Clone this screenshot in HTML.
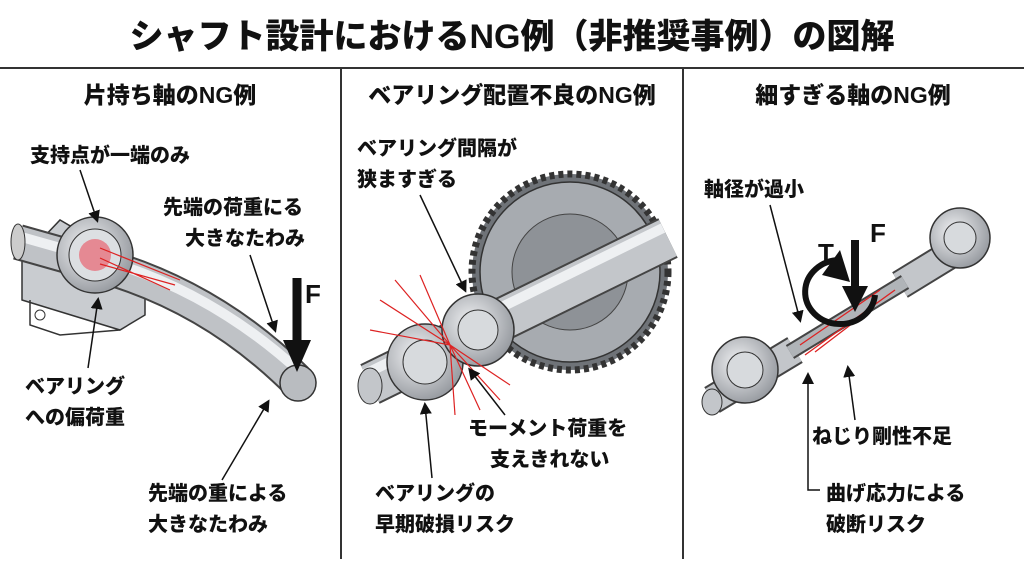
<!DOCTYPE html>
<html><head><meta charset="utf-8">
<style>
html,body{margin:0;padding:0;background:#fff;}
body{width:1024px;height:559px;overflow:hidden;font-family:"Liberation Sans","Noto Sans CJK JP",sans-serif;}
svg text{font-family:"Liberation Sans","Noto Sans CJK JP",sans-serif;font-weight:900;fill:#111;}
</style></head><body>
<svg width="1024" height="559" viewBox="0 0 1024 559" xmlns="http://www.w3.org/2000/svg">
<defs>
<radialGradient id="br" cx="0.4" cy="0.4" r="0.7">
<stop offset="0" stop-color="#f2f3f5"/><stop offset="1" stop-color="#8d9197"/></radialGradient>
<marker id="ah" markerWidth="8" markerHeight="8" refX="6" refY="4" orient="auto"><path d="M0,0 L8,4 L0,8 z" fill="#111"/></marker>
</defs>
<rect width="1024" height="559" fill="#fff"/>
<text x="512" y="48" font-size="34" text-anchor="middle">シャフト設計におけるNG例（非推奨事例）の図解</text>
<line x1="0" y1="68" x2="1024" y2="68" stroke="#333" stroke-width="2"/>
<line x1="341" y1="68" x2="341" y2="559" stroke="#333" stroke-width="2"/>
<line x1="683" y1="68" x2="683" y2="559" stroke="#333" stroke-width="2"/>
<text x="170" y="103" font-size="23" text-anchor="middle">片持ち軸のNG例</text>
<text x="512" y="103" font-size="23" text-anchor="middle">ベアリング配置不良のNG例</text>
<text x="853" y="103" font-size="23" text-anchor="middle">細すぎる軸のNG例</text>

<!-- Panel 1 -->
<path d="M22,300 L120,330 L145,315 L145,270 L120,255 L60,220 L22,260 Z" fill="#c9ccd0" stroke="#333" stroke-width="1.5"/>
<path d="M30,300 L30,325 L60,335 L120,330" fill="none" stroke="#333" stroke-width="1.5"/>
<circle cx="40" cy="315" r="5" fill="#fff" stroke="#333"/>
<g fill="none" stroke-linecap="butt">
<path d="M18,242 L110,268 Q215,300 296,380" stroke="#444" stroke-width="36"/>
<path d="M18,242 L110,268 Q215,300 296,380" stroke="#bfc2c6" stroke-width="32"/>
<path d="M18,236 L110,262 Q215,294 300,372" stroke="#eef0f2" stroke-width="10"/>
</g>
<ellipse cx="18" cy="242" rx="7" ry="18" fill="#ccc" stroke="#333"/>
<circle cx="298" cy="383" r="18" fill="#b9bcc0" stroke="#333" stroke-width="1.5"/>
<circle cx="95" cy="255" r="38" fill="url(#br)" stroke="#333" stroke-width="1.5"/>
<circle cx="95" cy="255" r="26" fill="#dcdfe2" stroke="#333"/>
<circle cx="95" cy="255" r="16" fill="#e34" opacity="0.5"/>
<path d="M100,248 L180,280 M100,258 L170,290 M100,264 L175,285" stroke="#d22" stroke-width="1.2"/>
<line x1="297" y1="278" x2="297" y2="345" stroke="#111" stroke-width="9"/>
<path d="M283,340 L311,340 L297,372 Z" fill="#111"/>
<text x="305" y="303" font-size="26">F</text>
<text x="30" y="162" font-size="20">支持点が一端のみ</text>
<line x1="80" y1="170" x2="97" y2="220" stroke="#111" stroke-width="1.5" marker-end="url(#ah)"/>
<text x="163" y="214" font-size="20">先端の荷重にる</text>
<text x="185" y="245" font-size="20">大きなたわみ</text>
<line x1="250" y1="255" x2="275" y2="330" stroke="#111" stroke-width="1.5" marker-end="url(#ah)"/>
<text x="25" y="393" font-size="20">ベアリング</text>
<text x="25" y="424" font-size="20">への偏荷重</text>
<line x1="88" y1="368" x2="98" y2="300" stroke="#111" stroke-width="1.5" marker-end="url(#ah)"/>
<text x="148" y="500" font-size="20">先端の重による</text>
<text x="148" y="531" font-size="20">大きなたわみ</text>
<line x1="222" y1="480" x2="268" y2="402" stroke="#111" stroke-width="1.5" marker-end="url(#ah)"/>

<!-- Panel 2 -->
<circle cx="570" cy="272" r="98" fill="#6f7378" stroke="#333" stroke-width="7" stroke-dasharray="5 4"/>
<circle cx="570" cy="272" r="90" fill="#a7abb0" stroke="#333" stroke-width="1.5"/>
<circle cx="570" cy="272" r="58" fill="#8e9297" stroke="#444"/>
<g fill="none">
<path d="M370,384 L668,238" stroke="#444" stroke-width="44"/>
<path d="M370,384 L668,238" stroke="#c3c6ca" stroke-width="40"/>
<path d="M365,374 L663,228" stroke="#eef0f2" stroke-width="10"/>
</g>
<ellipse cx="370" cy="386" rx="12" ry="18" fill="#c3c6ca" stroke="#333"/>
<circle cx="425" cy="362" r="38" fill="url(#br)" stroke="#333" stroke-width="1.5"/>
<circle cx="425" cy="362" r="22" fill="#d7dadd" stroke="#333"/>
<circle cx="478" cy="330" r="36" fill="url(#br)" stroke="#333" stroke-width="1.5"/>
<circle cx="478" cy="330" r="20" fill="#d7dadd" stroke="#333"/>
<g stroke="#d22" stroke-width="1.2">
<line x1="450" y1="345" x2="380" y2="300"/><line x1="450" y1="345" x2="395" y2="280"/><line x1="450" y1="345" x2="420" y2="275"/>
<line x1="450" y1="345" x2="370" y2="330"/><line x1="450" y1="345" x2="500" y2="400"/><line x1="450" y1="345" x2="480" y2="410"/>
<line x1="450" y1="345" x2="455" y2="415"/><line x1="450" y1="345" x2="510" y2="385"/></g>
<text x="357" y="155" font-size="20">ベアリング間隔が</text>
<text x="357" y="186" font-size="20">狭ますぎる</text>
<line x1="420" y1="195" x2="465" y2="290" stroke="#111" stroke-width="1.5" marker-end="url(#ah)"/>
<text x="468" y="435" font-size="20">モーメント荷重を</text>
<text x="490" y="466" font-size="20">支えきれない</text>
<line x1="505" y1="415" x2="470" y2="370" stroke="#111" stroke-width="1.5" marker-end="url(#ah)"/>
<text x="375" y="500" font-size="20">ベアリングの</text>
<text x="375" y="531" font-size="20">早期破損リスク</text>
<line x1="432" y1="478" x2="425" y2="405" stroke="#111" stroke-width="1.5" marker-end="url(#ah)"/>

<!-- Panel 3 -->
<g fill="none">
<path d="M712,400 L795,350 M900,285 L980,236" stroke="#444" stroke-width="30"/>
<path d="M712,400 L795,350 M900,285 L980,236" stroke="#c3c6ca" stroke-width="26"/>
<path d="M790,352 L905,282" stroke="#444" stroke-width="16"/>
<path d="M790,352 L905,282" stroke="#b0b4b8" stroke-width="12"/>
</g>
<path d="M800,345 L880,290 M805,355 L895,290 M815,352 L870,310" stroke="#d22" stroke-width="1.3"/>
<circle cx="745" cy="370" r="33" fill="url(#br)" stroke="#333" stroke-width="1.5"/>
<circle cx="745" cy="370" r="18" fill="#d7dadd" stroke="#333"/>
<circle cx="960" cy="238" r="30" fill="url(#br)" stroke="#333" stroke-width="1.5"/>
<circle cx="960" cy="238" r="16" fill="#d7dadd" stroke="#333"/>
<ellipse cx="712" cy="402" rx="10" ry="13" fill="#c3c6ca" stroke="#333"/>
<path d="M875,295 A35,32 0 1 1 840,260" fill="none" stroke="#111" stroke-width="6"/>
<path d="M822,275 L840,250 L850,282 Z" fill="#111"/>
<line x1="855" y1="240" x2="855" y2="290" stroke="#111" stroke-width="8"/>
<path d="M842,286 L868,286 L855,312 Z" fill="#111"/>
<text x="818" y="262" font-size="26">T</text>
<text x="870" y="242" font-size="26">F</text>
<text x="704" y="196" font-size="20">軸径が過小</text>
<line x1="770" y1="205" x2="800" y2="320" stroke="#111" stroke-width="1.5" marker-end="url(#ah)"/>
<text x="812" y="443" font-size="20">ねじり剛性不足</text>
<line x1="855" y1="420" x2="848" y2="368" stroke="#111" stroke-width="1.5" marker-end="url(#ah)"/>
<text x="826" y="500" font-size="20">曲げ応力による</text>
<text x="826" y="531" font-size="20">破断リスク</text>
<path d="M820,490 L808,490 L808,375" fill="none" stroke="#111" stroke-width="1.5" marker-end="url(#ah)"/>
</svg>
</body></html>
